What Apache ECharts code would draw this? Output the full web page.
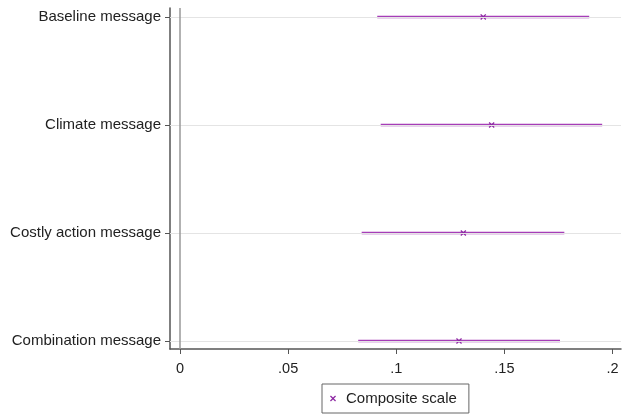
<!DOCTYPE html>
<html>
<head>
<meta charset="utf-8">
<script src="https://cdn.jsdelivr.net/npm/echarts@6/dist/echarts.min.js"></script>
<style>html,body{margin:0;padding:0;background:#fff}#c{width:622px;height:415px}</style>
</head>
<body>
<div id="c"></div>
<script>
const categories = ['Baseline message', 'Climate message', 'Costly action message', 'Combination message'];
const pointEstimates = [0.1402, 0.1441, 0.1310, 0.1290];
const lowerCI = [0.0912, 0.0928, 0.0840, 0.0824];
const upperCI = [0.1892, 0.1952, 0.1777, 0.1757];
const xTicks = [0, 0.05, 0.1, 0.15, 0.2];
const xTickLabels = ['0', '.05', '.1', '.15', '.2'];
const seriesName = 'Composite scale';

const purple = '#A63DB8';
const markerColor = '#8E2AA3';
const xPath = 'path://M0,1.5L1.5,0L5,3.5L8.5,0L10,1.5L6.5,5L10,8.5L8.5,10L5,6.5L1.5,10L0,8.5L3.5,5Z';
const catIdx = categories.map((c, i) => i);

const chart = echarts.init(document.getElementById('c'));
chart.setOption({
  animation: false,
  textStyle: { fontFamily: 'Liberation Sans, Arial, sans-serif' },
  grid: { left: 170, right: 1, top: 8, bottom: 66 },
  legend: {
    data: [{ name: seriesName, icon: xPath, itemStyle: { color: markerColor } }],
    bottom: 2, left: 322,
    borderColor: '#666', borderWidth: 1,
    padding: [7, 12, 7, 8],
    itemWidth: 6, itemHeight: 6, itemGap: 6,
    textStyle: { fontSize: 15, color: '#222', fontFamily: 'Liberation Sans, Arial, sans-serif', padding: [0, 0, 0, 5] }
  },
  xAxis: {
    type: 'value', min: -0.00462, max: 0.2039,
    axisLine: { show: true, onZero: false, lineStyle: { color: '#555', width: 1.5 } },
    axisTick: { show: true, customValues: xTicks, length: 5, lineStyle: { color: '#555' } },
    axisLabel: {
      customValues: xTicks, fontSize: 14.5, color: '#222', margin: 12,
      formatter: v => { const i = xTicks.findIndex(t => Math.abs(t - v) < 1e-9); return i >= 0 ? xTickLabels[i] : ''; }
    },
    splitLine: { show: false }
  },
  yAxis: {
    type: 'value', inverse: true, min: -0.083, max: 3.074,
    axisLine: { show: true, onZero: false, lineStyle: { color: '#555', width: 1.5 } },
    axisTick: { show: true, customValues: catIdx, length: 5, lineStyle: { color: '#555' } },
    axisLabel: {
      customValues: catIdx, fontSize: 15, color: '#222', margin: 9,
      formatter: v => categories[Math.round(v)] || ''
    },
    splitLine: { show: false }
  },
  series: [
    {
      name: 'ci', type: 'custom',
      data: categories.map((c, i) => [lowerCI[i], upperCI[i], i]),
      encode: { x: [0, 1], y: 2 },
      renderItem: function (params, api) {
        const y = api.value(2);
        const p1 = api.coord([api.value(0), y]);
        const p2 = api.coord([api.value(1), y]);
        return { type: 'line', shape: { x1: p1[0], y1: p1[1], x2: p2[0], y2: p2[1] }, style: { stroke: purple, lineWidth: 2.5, opacity: 1 } };
      },
      markLine: {
        silent: true, symbol: 'none', label: { show: false },
        data: catIdx.map(i => ({ yAxis: i, lineStyle: { color: '#e4e4e4', width: 1, type: 'solid', opacity: 1 } }))
          .concat([{ xAxis: 0, lineStyle: { color: '#999', width: 1.5, type: 'solid', opacity: 1 } }])
      },
      z: 3
    },
    {
      name: seriesName, type: 'scatter',
      data: categories.map((c, i) => [pointEstimates[i], i]),
      symbol: xPath, symbolSize: 6,
      itemStyle: { color: markerColor, opacity: 1 },
      z: 4
    }
  ]
});
</script>
</body>
</html>
